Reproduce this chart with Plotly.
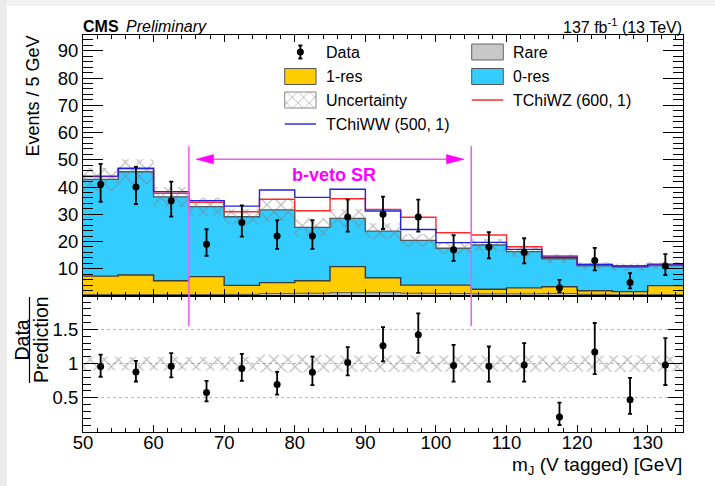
import plotly.graph_objects as go

# ---------------- data ----------------
edges = [50, 55, 60, 65, 70, 75, 80, 85, 90, 95, 100, 105, 110, 115, 120, 125, 130, 135]
data = [41, 40, 35, 19, 27, 22, 22, 29, 30, 29, 17, 18, 16, 3, 13, 5, 11]
data_up = [7.5, 7.4, 7.0, 5.5, 6.3, 5.8, 5.8, 6.4, 6.5, 6.4, 5.3, 5.4, 5.2, 2.9, 4.7, 3.4, 4.4]
data_dn = [6.4, 6.3, 5.9, 4.3, 5.2, 4.7, 4.7, 5.4, 5.4, 5.4, 4.1, 4.2, 4.0, 1.6, 3.6, 2.2, 3.3]
rare = [0.5, 0.5, 0.5, 0.5, 0.6, 0.9, 1.0, 1.2, 1.2, 1.0, 0.9, 0.8, 0.8, 0.9, 0.6, 0.5, 0.5]
res1 = [6.8, 7.2, 5.1, 6.6, 3.3, 4.0, 4.6, 9.6, 5.5, 3.0, 3.1, 1.7, 2.2, 2.5, 1.3, 1.1, 3.3]
res0 = [35.5, 37.9, 30.8, 25.7, 25.2, 26.7, 19.6, 17.7, 17.1, 16.4, 13.5, 16.2, 13.3, 10.3, 9.2, 9.0, 7.4]
unc = [4.3, 4.6, 3.6, 3.3, 2.9, 4.1, 3.3, 3.4, 2.9, 2.4, 2.1, 2.2, 2.0, 1.6, 1.3, 1.3, 1.3]
sig_ww = [1.2, 1.3, 1.9, 2.2, 3.9, 7.3, 11.0, 10.7, 7.4, 4.0, 2.1, 1.0, 0.8, 0.5, 0.5, 0.4, 0.5]
sig_wz = [1.0, 1.1, 1.3, 1.6, 1.8, 3.9, 6.1, 7.2, 8.0, 8.5, 5.7, 3.7, 1.8, 1.0, 0.5, 0.4, 0.3]
sr_edges = [65, 105]

# ---------------- derived ----------------
n = len(data)
centers = [(edges[i] + edges[i + 1]) / 2 for i in range(n)]
cum_rare = rare[:]
cum_res1 = [rare[i] + res1[i] for i in range(n)]
tot = [cum_res1[i] + res0[i] for i in range(n)]
unc_lo = [tot[i] - unc[i] for i in range(n)]
unc_hi = [tot[i] + unc[i] for i in range(n)]
ww_line = [tot[i] + sig_ww[i] for i in range(n)]
wz_line = [tot[i] + sig_wz[i] for i in range(n)]
ratio = [data[i] / tot[i] for i in range(n)]
ratio_up = [data_up[i] / tot[i] for i in range(n)]
ratio_dn = [data_dn[i] / tot[i] for i in range(n)]
r_lo = [1 - unc[i] / tot[i] for i in range(n)]
r_hi = [1 + unc[i] / tot[i] for i in range(n)]


def steps(v):
    return list(v) + [v[-1]]


# pixel -> paper helpers (plot area spans x 83..683, y 35..432)
def PX(x):
    return (x - 83) / 600.0


def PY(y):
    return (432 - y) / 397.0


FONT = "Liberation Sans, Arial, Helvetica, sans-serif"
C_YEL = "#ffcc00"
C_BLU = "#33ccff"
C_GRY = "#c8c8c8"
C_EDGE = "#3c3c3c"
C_WW = "#2222dd"
C_WZ = "#ff2a2a"
C_MAG = "#ff00ff"
C_MAGL = "#f060f0"
HATCH = dict(shape="x", fgcolor="#7a7a7a", bgcolor="rgba(0,0,0,0)", size=10, solidity=0.22)

fig = go.Figure()

# ---------------- top panel ----------------
fig.add_trace(go.Scatter(x=edges, y=steps(cum_rare), mode="lines", line=dict(shape="hv", color="#555", width=1),
                         fill="tozeroy", fillcolor=C_GRY, xaxis="x", yaxis="y", showlegend=False, hoverinfo="skip"))
fig.add_trace(go.Scatter(x=edges, y=steps(cum_res1), mode="lines", line=dict(shape="hv", color=C_EDGE, width=1.4),
                         fill="tonexty", fillcolor=C_YEL, xaxis="x", yaxis="y", showlegend=False, hoverinfo="skip"))
fig.add_trace(go.Scatter(x=edges, y=steps(tot), mode="lines", line=dict(shape="hv", color="#4a5a60", width=1.4),
                         fill="tonexty", fillcolor=C_BLU, xaxis="x", yaxis="y", showlegend=False, hoverinfo="skip"))
fig.add_trace(go.Scatter(x=edges, y=steps(unc_lo), mode="lines", line=dict(shape="hv", width=0),
                         xaxis="x", yaxis="y", showlegend=False, hoverinfo="skip"))
fig.add_trace(go.Scatter(x=edges, y=steps(unc_hi), mode="lines", line=dict(shape="hv", width=0),
                         fill="tonexty", fillcolor="rgba(0,0,0,0)", fillpattern=HATCH,
                         xaxis="x", yaxis="y", showlegend=False, hoverinfo="skip"))
fig.add_trace(go.Scatter(x=edges, y=steps(wz_line), mode="lines", line=dict(shape="hv", color=C_WZ, width=1.4),
                         xaxis="x", yaxis="y", showlegend=False, hoverinfo="skip"))
fig.add_trace(go.Scatter(x=edges, y=steps(ww_line), mode="lines", line=dict(shape="hv", color=C_WW, width=1.4),
                         xaxis="x", yaxis="y", showlegend=False, hoverinfo="skip"))
fig.add_trace(go.Scatter(x=centers, y=data, mode="markers", marker=dict(color="black", size=7),
                         error_y=dict(type="data", symmetric=False, array=data_up, arrayminus=data_dn,
                                      color="black", thickness=1.8, width=2),
                         xaxis="x", yaxis="y", showlegend=False, hoverinfo="skip"))

# ---------------- ratio panel ----------------
fig.add_trace(go.Scatter(x=edges, y=steps(r_lo), mode="lines", line=dict(shape="hv", width=0),
                         xaxis="x2", yaxis="y2", showlegend=False, hoverinfo="skip"))
fig.add_trace(go.Scatter(x=edges, y=steps(r_hi), mode="lines", line=dict(shape="hv", width=0),
                         fill="tonexty", fillcolor="rgba(0,0,0,0)", fillpattern=HATCH,
                         xaxis="x2", yaxis="y2", showlegend=False, hoverinfo="skip"))
fig.add_trace(go.Scatter(x=centers, y=ratio, mode="markers", marker=dict(color="black", size=7),
                         error_y=dict(type="data", symmetric=False, array=ratio_up, arrayminus=ratio_dn,
                                      color="black", thickness=1.8, width=2),
                         xaxis="x2", yaxis="y2", showlegend=False, hoverinfo="skip"))

# ---------------- legend (pixel coordinates on overlay axes) ----------------
LX0, LX1 = 284.7, 316.0
RX0, RX1 = 471.7, 503.3
rows = [52, 76.5, 100, 124]
fig.add_trace(go.Scatter(x=[(LX0 + LX1) / 2], y=[rows[0]], mode="markers", marker=dict(color="black", size=7),
                         error_y=dict(type="data", array=[6.5], color="black", thickness=1.8, width=2),
                         xaxis="x3", yaxis="y3", showlegend=False, hoverinfo="skip"))
fig.add_trace(go.Scatter(x=[LX0, LX1, LX1, LX0, LX0], y=[rows[2] - 8, rows[2] - 8, rows[2] + 8, rows[2] + 8, rows[2] - 8],
                         mode="lines", line=dict(color="#888", width=1), fill="toself", fillcolor="rgba(0,0,0,0)",
                         fillpattern=dict(shape="x", fgcolor="#7a7a7a", bgcolor="rgba(0,0,0,0)", size=8, solidity=0.22),
                         xaxis="x3", yaxis="y3", showlegend=False, hoverinfo="skip"))

shapes = []


def box(x0, x1, yc, fill, edge):
    shapes.append(dict(type="rect", xref="x3", yref="y3", x0=x0, x1=x1, y0=yc - 8, y1=yc + 8,
                       fillcolor=fill, line=dict(color=edge, width=1)))


def hline(x0, x1, yc, col):
    shapes.append(dict(type="line", xref="x3", yref="y3", x0=x0, x1=x1, y0=yc, y1=yc,
                       line=dict(color=col, width=1.4)))


box(LX0, LX1, rows[1], C_YEL, "#555")
hline(LX0, LX1, rows[3], C_WW)
box(RX0, RX1, rows[0], C_GRY, "#666")
box(RX0, RX1, rows[1], C_BLU, "#555")
hline(RX0, RX1, rows[2], C_WZ)

# signal region lines and arrow
for xe in sr_edges:
    shapes.append(dict(type="line", xref="x", yref="y", x0=xe, x1=xe, y0=0, y1=55,
                       line=dict(color=C_MAGL, width=1.6)))
    shapes.append(dict(type="line", xref="x2", yref="y2", x0=xe, x1=xe, y0=1.55, y1=1.99,
                       line=dict(color=C_MAGL, width=1.6)))
ay = 50.2
shapes.append(dict(type="line", xref="x", yref="y", x0=67.5, x1=102.5, y0=ay, y1=ay,
                   line=dict(color=C_MAGL, width=1.4)))
shapes.append(dict(type="path", xref="x", yref="y",
                   path=f"M 66 {ay} L 68.5 {ay + 1.7} L 68.5 {ay - 1.7} Z",
                   fillcolor=C_MAG, line=dict(color=C_MAG, width=0.5)))
shapes.append(dict(type="path", xref="x", yref="y",
                   path=f"M 104 {ay} L 101.5 {ay + 1.7} L 101.5 {ay - 1.7} Z",
                   fillcolor=C_MAG, line=dict(color=C_MAG, width=0.5)))

# fraction bar for the ratio title and light page border (paper coordinates)
shapes.append(dict(type="line", xref="paper", yref="paper", x0=PX(29.5), x1=PX(29.5), y0=PY(297), y1=PY(383),
                   line=dict(color="black", width=1.2)))
shapes.append(dict(type="rect", xref="paper", yref="paper", x0=PX(0), x1=PX(7), y0=PY(486), y1=PY(0),
                   fillcolor="#ebebeb", line=dict(width=0), layer="below"))
shapes.append(dict(type="rect", xref="paper", yref="paper", x0=PX(7), x1=PX(715), y0=PY(6), y1=PY(0),
                   fillcolor="#f3f3f3", line=dict(width=0), layer="below"))

annotations = []


def text(x, y, s, size=16, xanchor="left", color="black", angle=0, ref="paper"):
    if ref == "paper":
        ax, ay_, xr, yr = PX(x), PY(y), "paper", "paper"
    else:
        ax, ay_, xr, yr = x, y, ref[0], ref[1]
    annotations.append(dict(x=ax, y=ay_, xref=xr, yref=yr, text=s, showarrow=False,
                            xanchor=xanchor, yanchor="middle", textangle=angle,
                            font=dict(family=FONT, size=size, color=color)))


text(324, rows[0], "Data")
text(324, rows[1], "1-res")
text(324, rows[2], "Uncertainty")
text(324, rows[3], "TChiWW (500, 1)")
text(511, rows[0], "Rare")
text(511, rows[1], "0-res")
text(511, rows[2], "TChiWZ (600, 1)")

text(81, 26.5, "<b>CMS</b>", size=16)
text(123.5, 26.5, "<i>Preliminary</i>", size=16)
text(684, 26, "137 fb<sup>-1</sup> (13 TeV)", size=16, xanchor="right")
text(85.5, 44.4, "<b>b-veto SR</b>", size=18, xanchor="center", ref=("x", "y"), color=C_MAG)
text(33, 96.5, "Events / 5 GeV", size=18, xanchor="center", angle=-90)
text(684, 466, "m<sub>J</sub> (V tagged) [GeV]", size=19, xanchor="right")
text(21.5, 340, "Data", size=19.5, xanchor="center", angle=-90)
text(41, 339, "Prediction", size=19.5, xanchor="center", angle=-90)

split = (432 - 296) / 397.0
tickfont = dict(family=FONT, size=18.5, color="black")
axis_common = dict(showline=True, linecolor="black", linewidth=1, mirror="allticks", ticks="inside",
                   tickcolor="black", showgrid=False, zeroline=False, tickfont=tickfont)

fig.update_layout(
    width=715, height=486,
    margin=dict(l=83, r=32, t=35, b=54, pad=0),
    paper_bgcolor="white", plot_bgcolor="rgba(0,0,0,0)",
    showlegend=False,
    xaxis=dict(domain=[0, 1], anchor="y", range=[50, 135], matches="x2", showticklabels=False,
               tick0=50, dtick=10, ticklen=7,
               minor=dict(dtick=2, tick0=50, ticklen=4, ticks="inside", tickcolor="black", showgrid=False),
               **axis_common),
    yaxis=dict(domain=[split, 1], anchor="x", range=[0, 95.8], tickmode="array",
               tickvals=[0, 10, 20, 30, 40, 50, 60, 70, 80, 90],
               ticktext=["", "10", "20", "30", "40", "50", "60", "70", "80", "90"], ticklen=20,
               minor=dict(dtick=2, tick0=0, ticklen=10, ticks="inside", tickcolor="black", showgrid=False),
               **axis_common),
    xaxis2=dict(domain=[0, 1], anchor="y2", range=[50, 135], tick0=50, dtick=10, ticklen=7,
                ticklabelstandoff=-6,
                minor=dict(dtick=2, tick0=50, ticklen=4, ticks="inside", tickcolor="black", showgrid=False),
                **axis_common),
    yaxis2=dict(domain=[0, split], anchor="x2", range=[0, 1.99], tickmode="array",
                tickvals=[0.5, 1, 1.5], ticktext=["0.5", "1", "1.5"], ticklen=15,
                minor=dict(dtick=0.1, tick0=0, ticklen=8, ticks="inside", tickcolor="black", showgrid=False),
                **{k: v for k, v in axis_common.items() if k != "showgrid"},
                showgrid=True, gridcolor="#b8b8b8", griddash="dot", gridwidth=1),
    xaxis3=dict(domain=[0, 1], anchor="y3", range=[83, 683], visible=False, fixedrange=True),
    yaxis3=dict(domain=[0, 1], anchor="x3", range=[432, 35], visible=False, fixedrange=True),
    shapes=shapes,
    annotations=annotations,
)

fig.write_html("out.html")
